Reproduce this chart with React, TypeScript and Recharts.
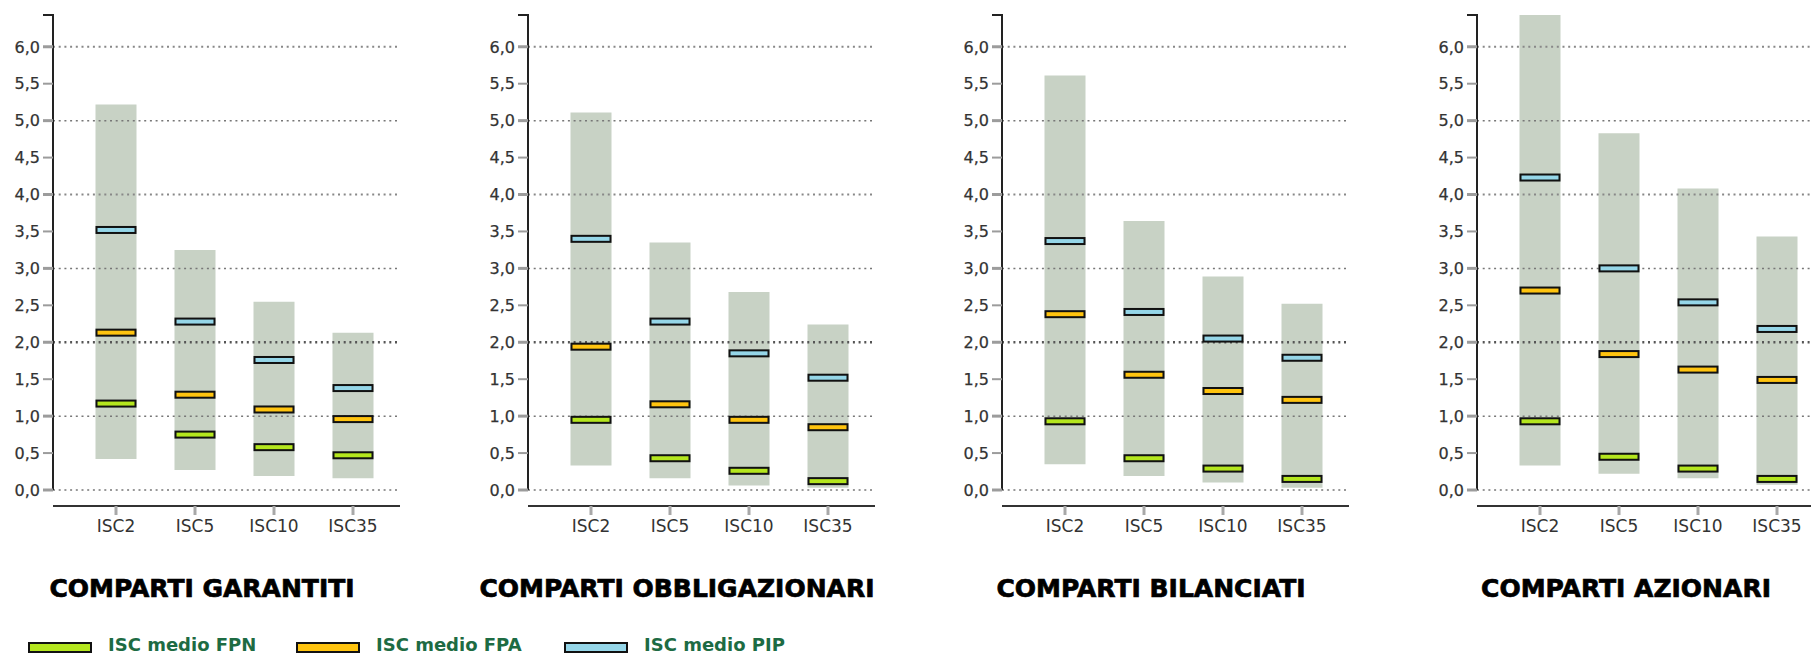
import React from 'react';
import { ComposedChart, Bar, Line, XAxis, YAxis, ReferenceLine } from 'recharts';

const categories = ['ISC2', 'ISC5', 'ISC10', 'ISC35'];
const panelTitles = ['COMPARTI GARANTITI', 'COMPARTI OBBLIGAZIONARI', 'COMPARTI BILANCIATI', 'COMPARTI AZIONARI'];

// min / max range per panel
const garantitiMin = [0.42, 0.27, 0.19, 0.16];
const garantitiMax = [5.22, 3.25, 2.55, 2.13];
const garantitiFPN = [1.17, 0.75, 0.58, 0.47];
const garantitiFPA = [2.13, 1.29, 1.09, 0.96];
const garantitiPIP = [3.52, 2.28, 1.76, 1.38];

const obbligazionariMin = [0.33, 0.16, 0.06, 0.03];
const obbligazionariMax = [5.11, 3.35, 2.68, 2.24];
const obbligazionariFPN = [0.95, 0.43, 0.26, 0.12];
const obbligazionariFPA = [1.94, 1.16, 0.95, 0.85];
const obbligazionariPIP = [3.4, 2.28, 1.85, 1.52];

const bilanciatiMin = [0.35, 0.19, 0.1, 0.03];
const bilanciatiMax = [5.61, 3.64, 2.89, 2.52];
const bilanciatiFPN = [0.93, 0.43, 0.29, 0.15];
const bilanciatiFPA = [2.38, 1.56, 1.34, 1.22];
const bilanciatiPIP = [3.37, 2.41, 2.05, 1.79];

const azionariMin = [0.33, 0.22, 0.16, 0.07];
const azionariMax = [6.5, 4.83, 4.08, 3.43];
const azionariFPN = [0.93, 0.45, 0.29, 0.15];
const azionariFPA = [2.7, 1.84, 1.63, 1.49];
const azionariPIP = [4.23, 3.0, 2.54, 2.18];

const yMax = 6.43;
const yTicks = [0, 0.5, 1, 1.5, 2, 2.5, 3, 3.5, 4, 4.5, 5, 5.5, 6, yMax];
const gridValues = [0, 1, 2, 3, 4, 5, 6];

const seriesNames = ['ISC medio FPN', 'ISC medio FPA', 'ISC medio PIP'];
const seriesColors = ['#b4e61e', '#ffc40f', '#95d6e8'];
const rangeColor = '#c8d2c5';

const panels = [
  { min: garantitiMin, max: garantitiMax, fpn: garantitiFPN, fpa: garantitiFPA, pip: garantitiPIP },
  { min: obbligazionariMin, max: obbligazionariMax, fpn: obbligazionariFPN, fpa: obbligazionariFPA, pip: obbligazionariPIP },
  { min: bilanciatiMin, max: bilanciatiMax, fpn: bilanciatiFPN, fpa: bilanciatiFPA, pip: bilanciatiPIP },
  { min: azionariMin, max: azionariMax, fpn: azionariFPN, fpa: azionariFPA, pip: azionariPIP },
];

const PANEL_W = 475;
const panelLefts = [0, 475, 949, 1424];

const YTick = (props: any) => {
  const { x, y, payload } = props;
  const v = payload.value as number;
  if (v > 6.01) {
    return <line x1={x + 3} x2={x + 14} y1={y} y2={y} stroke="#222" strokeWidth={2} />;
  }
  const major = Math.abs(v - Math.round(v)) < 1e-6;
  return (
    <g>
      <line x1={x + 3} x2={x + 13} y1={y} y2={y} stroke="#9c9c9c" strokeWidth={major ? 3 : 2} />
      <text x={x} y={y} dy="0.36em" textAnchor="end" fontSize={16} fill="#333" stroke="#333" strokeWidth={0.25} fontFamily="'DejaVu Sans', sans-serif">
        {v.toFixed(1).replace('.', ',')}
      </text>
    </g>
  );
};

const makeDot = (color: string) => (p: any) => {
  if (p.cx == null || p.cy == null) return <g key={`e${p.index}`} />;
  return (
    <rect
      key={`d${p.index}`}
      x={p.cx - 19.5}
      y={p.cy - 3}
      width={39}
      height={6}
      fill={color}
      stroke="#111"
      strokeWidth={2}
    />
  );
};

const gridStyle = (v: number) => {
  if (v === 2) return { stroke: '#555', strokeWidth: 2.6 };
  if (v === 4 || v === 6) return { stroke: '#888', strokeWidth: 2.2 };
  return { stroke: '#777', strokeWidth: 1.5 };
};

function Panel({ idx }: { idx: number }) {
  const p = panels[idx];
  const data = categories.map((c, i) => ({
    cat: c,
    range: [p.min[i], p.max[i]],
    fpn: p.fpn[i],
    fpa: p.fpa[i],
    pip: p.pip[i],
  }));
  return (
    <ComposedChart
      width={PANEL_W}
      height={550}
      data={data}
      margin={{ top: 15, right: 75, bottom: 0, left: 0 }}
    >
      <XAxis
        xAxisId="b"
        dataKey="cat"
        height={44}
        padding={{ left: 23.5, right: 7.5 }}
        axisLine={{ stroke: '#333', strokeWidth: 2 }}
        tickLine={{ stroke: '#a8a8a8', strokeWidth: 3 }}
        tickSize={9}
        tickMargin={5}
        interval={0}
        tick={{ fontSize: 17, fill: '#333', fontFamily: "'DejaVu Sans', sans-serif" }}
      />
      <XAxis xAxisId="a" dataKey="cat" height={16} axisLine={false} tickLine={false} tick={false} padding={{ left: 23.5, right: 7.5 }} />
      <YAxis
        type="number"
        domain={[0, yMax]}
        allowDataOverflow
        ticks={yTicks}
        interval={0}
        width={53}
        axisLine={{ stroke: '#222', strokeWidth: 2 }}
        tickLine={false}
        tickSize={10}
        tickMargin={3}
        tick={<YTick />}
      />
      <Bar xAxisId="b" dataKey="range" fill={rangeColor} barSize={41} isAnimationActive={false} />
      <Line xAxisId="b" dataKey="fpn" stroke="none" dot={makeDot(seriesColors[0])} activeDot={false} isAnimationActive={false} />
      <Line xAxisId="b" dataKey="fpa" stroke="none" dot={makeDot(seriesColors[1])} activeDot={false} isAnimationActive={false} />
      <Line xAxisId="b" dataKey="pip" stroke="none" dot={makeDot(seriesColors[2])} activeDot={false} isAnimationActive={false} />
      {gridValues.map((v) => (
        <ReferenceLine key={v} xAxisId="b" y={v} strokeDasharray="2 3.7" {...gridStyle(v)} />
      ))}
    </ComposedChart>
  );
}

export default function App() {
  return (
    <div style={{ position: 'absolute', left: 0, top: 0, width: 1811, height: 657, overflow: 'hidden', background: '#fff' }}>
      {panelLefts.map((left, i) => (
        <div key={i} style={{ position: 'absolute', left, top: 0, width: PANEL_W, height: 550 }}>
          <Panel idx={i} />
        </div>
      ))}
      {panelLefts.map((left, i) => (
        <div
          key={`t${i}`}
          style={{
            position: 'absolute',
            left: left,
            top: 576,
            width: 404,
            textAlign: 'center',
            fontFamily: "'DejaVu Sans', sans-serif",
            fontWeight: 700,
            fontSize: 25,
            lineHeight: '25px',
            color: '#000',
            WebkitTextStroke: '0.7px #000',
            whiteSpace: 'nowrap',
          }}
        >
          {panelTitles[i]}
        </div>
      ))}
      {seriesNames.map((name, i) => (
        <React.Fragment key={name}>
          <div
            style={{
              position: 'absolute',
              left: 28 + i * 268,
              top: 642,
              width: 64,
              height: 11,
              boxSizing: 'border-box',
              border: '2px solid #111',
              background: seriesColors[i],
            }}
          />
          <div
            style={{
              position: 'absolute',
              left: 108 + i * 268,
              top: 636,
              fontFamily: "'DejaVu Sans', sans-serif",
              fontWeight: 700,
              fontSize: 18,
              lineHeight: '18px',
              color: '#1d6b43',
              whiteSpace: 'nowrap',
            }}
          >
            {name}
          </div>
        </React.Fragment>
      ))}
    </div>
  );
}
